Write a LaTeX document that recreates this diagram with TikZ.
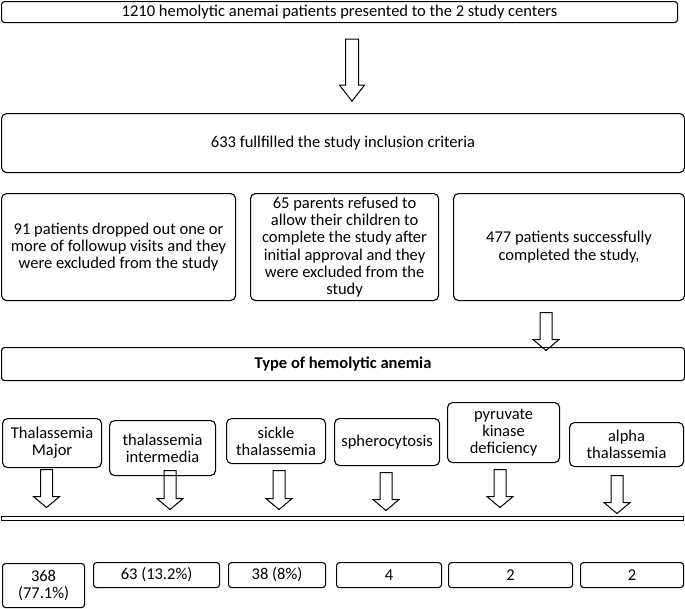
\documentclass[tikz,border=0pt]{standalone}
\usepackage{fontspec}
\setmainfont{Carlito}
\usetikzlibrary{shapes.arrows}

\tikzset{
  stage/.style={draw, line width=1.1pt, rounded corners=5pt, align=center,
    anchor=north west, inner sep=1pt, font=\fontsize{16.5}{17.2}\selectfont},
  count/.style={stage, rounded corners=3pt},
  blockarrow/.style={draw, line width=1pt, single arrow, rotate=-90,
    inner xsep=0pt, inner ysep=5.5pt, outer sep=0pt,
    single arrow head extend=7pt, single arrow tip angle=100}
}

\begin{document}
\begin{tikzpicture}[x=1pt,y=-1pt]
  \useasboundingbox (0,0) rectangle (685,608);
  \node [stage, rounded corners=3pt, minimum width=676pt, minimum height=21pt] (centers) at (1,1)
    {1210 hemolytic anemai patients presented to the 2 study centers};
  \node [stage, minimum width=683pt, minimum height=59pt] (inclusion) at (1,113)
    {633 fullfilled the study inclusion criteria};
  \node [stage, minimum width=234pt, minimum height=107pt] (dropped) at (1,193)
    {91 patients dropped out one or\\more of followup visits and they\\were excluded from the study};
  \node [stage, minimum width=188pt, minimum height=107pt] (refused) at (250,193)
    {65 parents refused to\\allow their children to\\complete the study after\\initial approval and they\\were excluded from the\\study};
  \node [stage, minimum width=231pt, minimum height=107pt] (completed) at (453,193)
    {477 patients successfully\\completed the study,};
  \node [stage, rounded corners=3pt, minimum width=683pt, minimum height=33pt] (type) at (1,347)
    {\textbf{Type of hemolytic anemia}};

  \node [blockarrow, minimum height=62pt, single arrow tip angle=76, inner ysep=6pt,
    single arrow head extend=6pt] (arrowA) at (352,66) {};
  \node [blockarrow, minimum height=38pt] (arrowB) at (546,329) {};

  \node [stage, minimum width=99pt, minimum height=49pt] (major) at (2,418) {Thalassemia\\Major};
  \node [stage, minimum width=106pt, minimum height=55pt] (intermedia) at (109,420) {thalassemia\\intermedia};
  \node [stage, minimum width=99pt, minimum height=45pt] (sickle) at (226,418) {sickle\\thalassemia};
  \node [stage, minimum width=105pt, minimum height=47pt] (sphero) at (334,418) {spherocytosis};
  \node [stage, minimum width=112pt, minimum height=60pt] (pyruvate) at (447,402) {pyruvate\\kinase\\deficiency};
  \node [stage, minimum width=114pt, minimum height=44pt] (alpha) at (569,422) {alpha\\thalassemia};

  \node [blockarrow, minimum height=38pt] (arrowTM) at (46.5,486) {};
  \node [blockarrow, minimum height=39pt] (arrowTI) at (170,487.5) {};
  \node [blockarrow, minimum height=39pt] (arrowST) at (279,487.5) {};
  \node [blockarrow, minimum height=38pt] (arrowSP) at (386,489) {};
  \node [blockarrow, minimum height=38pt] (arrowPK) at (500,486) {};
  \node [blockarrow, minimum height=38pt] (arrowAT) at (617,492) {};

  \draw [line width=1pt] (1.5,516) rectangle (683,520);

  \node [count, minimum width=82pt, minimum height=44pt] (nMajor) at (2,563) {368\\(77.1\%)};
  \node [count, minimum width=126pt, minimum height=25pt] (nIntermedia) at (93,562) {63 (13.2\%)};
  \node [count, minimum width=97pt, minimum height=25pt] (nSickle) at (228,562) {38 (8\%)};
  \node [count, minimum width=105pt, minimum height=25pt] (nSphero) at (336,562) {4};
  \node [count, minimum width=124pt, minimum height=25pt] (nPyruvate) at (448,562) {2};
  \node [count, minimum width=103pt, minimum height=25pt] (nAlpha) at (580,562) {2};
\end{tikzpicture}
\end{document}
